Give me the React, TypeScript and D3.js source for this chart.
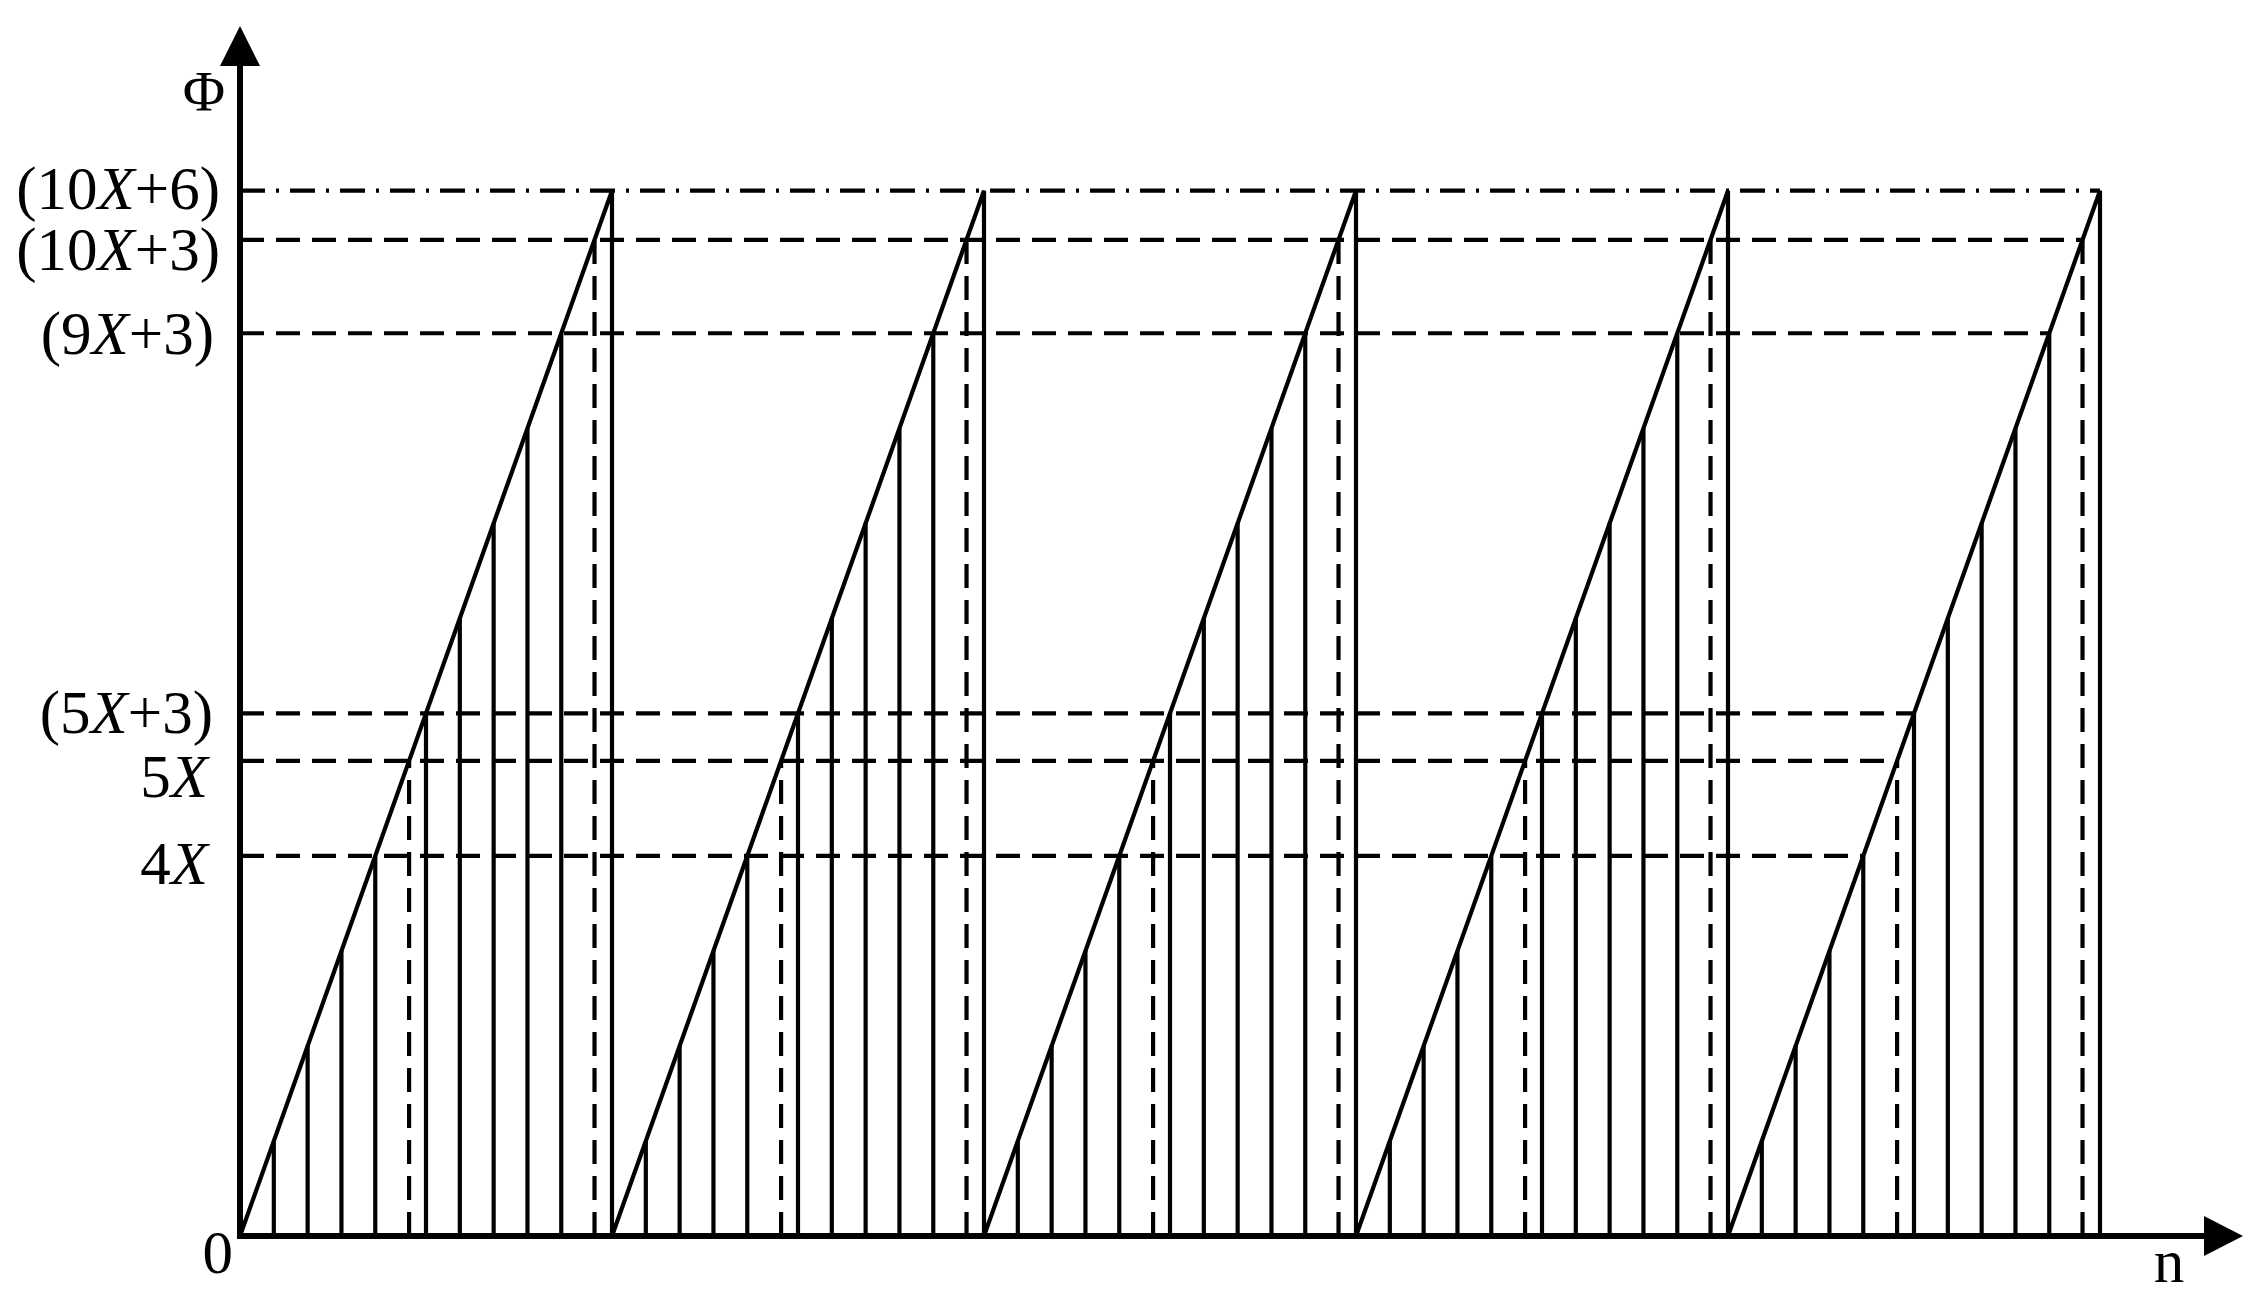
import React from "react";
import * as d3 from "d3";

// Φ values (X ≈ 6 units)
const PERIOD = 66; // (10X+6)
const PERIOD_COUNT = 5;
const solidLevels = [6, 12, 18, 24, 33, 39, 45, 51, 57]; // X..4X, 5X+3..9X+3
const dashedLevels = [30, 62.9]; // 5X, 10X+3
const guideLevels = [62.9, 57, 33, 30, 24]; // dashed horizontal guides
const peakLevel = 66; // dash-dot guide
const tickLabels = [
  { v: 66, parts: ["(10", "X", "+6)"] },
  { v: 62.9, parts: ["(10", "X", "+3)"] },
  { v: 57, parts: ["(9", "X", "+3)"] },
  { v: 33, parts: ["(5", "X", "+3)"] },
  { v: 30, parts: ["5", "X", ""] },
  { v: 24, parts: ["4", "X", ""] },
];
// label placement tweaks (baseline offset from line, right edge)
const labelDy = [18, 30, 21, 20, 36, 28];
const labelRight = [220, 220, 214, 213, 208, 208];

export default function App() {
  React.useEffect(() => {
    document.body.style.margin = "0";
  }, []);
  const W = 2264, H = 1304;
  const x = d3.scaleLinear().domain([0, PERIOD * PERIOD_COUNT]).range([240, 2100]);
  const y = d3.scaleLinear().domain([0, PERIOD]).range([1236, 190.7]);
  const line = d3.line<[number, number]>().x((d) => x(d[0])).y((d) => y(d[1]));

  const periods = d3.range(PERIOD_COUNT);
  const sawPts: [number, number][] = [];
  periods.forEach((k) => {
    sawPts.push([k * PERIOD, 0]);
    sawPts.push([(k + 1) * PERIOD, peakLevel]);
    sawPts.push([(k + 1) * PERIOD, 0]);
  });
  const lastStart = (PERIOD_COUNT - 1) * PERIOD;
  const font = "'Liberation Serif', 'Times New Roman', serif";
  const sw = 4.2;

  return (
    <svg width={W} height={H} style={{ display: "block", position: "absolute", left: 0, top: 0 }}>
      <rect width={W} height={H} fill="#fff" />
      {/* horizontal guides */}
      {guideLevels.map((v, i) => (
        <path key={"g" + i} d={line([[0, v], [lastStart + v, v]]) || ""} stroke="#000" strokeWidth={sw} strokeDasharray="24 12" fill="none" />
      ))}
      <path d={line([[0, peakLevel], [PERIOD * PERIOD_COUNT, peakLevel]]) || ""} stroke="#000" strokeWidth={sw} strokeDasharray="25 11 3 11" fill="none" />
      {/* hatching */}
      {periods.map((k) => (
        <g key={"p" + k}>
          {solidLevels.map((v, i) => (
            <path key={"s" + i} d={line([[k * PERIOD + v, 0], [k * PERIOD + v, v]]) || ""} stroke="#000" strokeWidth={sw} fill="none" />
          ))}
          {dashedLevels.map((v, i) => (
            <path key={"d" + i} d={line([[k * PERIOD + v, 0], [k * PERIOD + v, v]]) || ""} stroke="#000" strokeWidth={sw} strokeDasharray="24 12" fill="none" />
          ))}
        </g>
      ))}
      {/* sawtooth */}
      <path d={line(sawPts) || ""} stroke="#000" strokeWidth={sw} fill="none" strokeLinejoin="miter" />
      {/* axes */}
      <line x1={x(0)} y1={y(0) + 3} x2={x(0)} y2={66} stroke="#000" strokeWidth={6} />
      <path d={`M${x(0)},26 L${x(0) - 20},66 L${x(0) + 20},66 Z`} fill="#000" />
      <line x1={x(0) - 3} y1={y(0)} x2={2204} y2={y(0)} stroke="#000" strokeWidth={6} />
      <path d={`M2243,${y(0)} L2204,${y(0) - 20} L2204,${y(0) + 20} Z`} fill="#000" />
      {/* labels */}
      <g fontFamily={font} fontSize={61} fill="#000">
        {tickLabels.map((t, i) => (
          <text key={"t" + i} x={labelRight[i]} y={y(t.v) + labelDy[i]} textAnchor="end">
            {t.parts[0]}
            <tspan fontStyle="italic">{t.parts[1]}</tspan>
            {t.parts[2]}
          </text>
        ))}
        <text x={233} y={1273} textAnchor="end">0</text>
        <text x={204} y={111} textAnchor="middle" fontSize={58}>Φ</text>
        <text x={2169} y={1282} textAnchor="middle">n</text>
      </g>
    </svg>
  );
}
